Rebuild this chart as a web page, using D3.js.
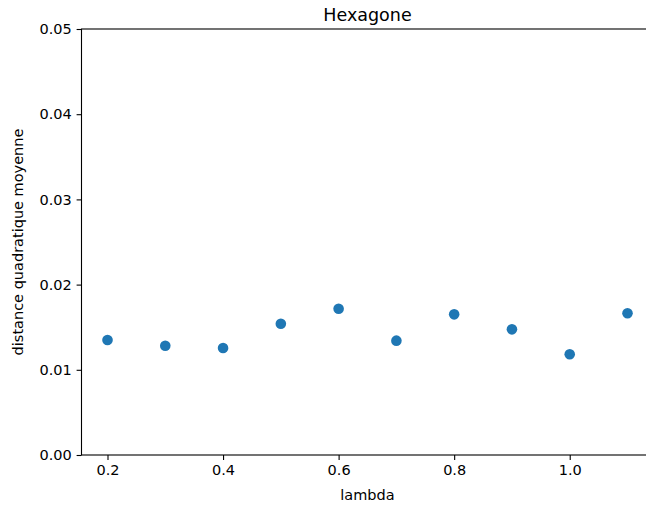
<!DOCTYPE html>
<html>
<head>
<meta charset="utf-8">
<script src="https://cdn.jsdelivr.net/npm/d3@7"></script>
<style>
  body { margin: 0; background: #fff; }
  svg { font-family: "DejaVu Sans", sans-serif; }
</style>
</head>
<body>
<div id="chart"></div>
<script>
// values
var lambdas = [0.2, 0.3, 0.4, 0.5, 0.6, 0.7, 0.8, 0.9, 1.0, 1.1];
var distances = [0.0135, 0.01283, 0.01256, 0.01541, 0.01717, 0.01342, 0.01651, 0.01475, 0.01182, 0.01663];
var xTicks = [0.2, 0.4, 0.6, 0.8, 1.0];
var yTicks = [0.00, 0.01, 0.02, 0.03, 0.04, 0.05];

var W = 646, H = 505;
// axes box (right edge falls just outside the picture, like the reference)
var axL = 81.5, axR = 653.5, axT = 29, axB = 455;

var svg = d3.select("#chart")
    .append("svg")
    .attr("width", W)
    .attr("height", H);

var data = lambdas.map(function(l, i) { return {x: l, y: distances[i]}; });

// matplotlib style 5% margins on x
var xScale = d3.scaleLinear()
    .domain([0.155, 1.145])
    .range([axL, axR]);

var yScale = d3.scaleLinear()
    .domain([0, 0.05])
    .range([axB, axT]);

var xAxis = d3.axisBottom(xScale)
    .tickValues(xTicks)
    .tickFormat(d3.format(".1f"))
    .tickSizeInner(4.9)
    .tickSizeOuter(0)
    .tickPadding(4.9);

var yAxis = d3.axisLeft(yScale)
    .tickValues(yTicks)
    .tickFormat(d3.format(".2f"))
    .tickSizeInner(4.9)
    .tickSizeOuter(0)
    .tickPadding(4.9);

svg.append("g")
    .attr("class", "x-axis")
    .attr("transform", "translate(0," + axB + ")")
    .call(xAxis);

svg.append("g")
    .attr("class", "y-axis")
    .attr("transform", "translate(" + axL + ",0)")
    .call(yAxis);

svg.selectAll(".domain").remove();
svg.selectAll(".tick line").attr("stroke", "#000").attr("stroke-width", 1.1);
svg.selectAll(".tick text")
    .attr("fill", "#000")
    .style("font-size", "14.5px")
    .style("font-family", "DejaVu Sans, sans-serif");

// frame
svg.append("rect")
    .attr("x", axL)
    .attr("y", axT)
    .attr("width", axR - axL)
    .attr("height", axB - axT)
    .attr("fill", "none")
    .attr("stroke", "#000")
    .attr("stroke-width", 1.1);

// points
svg.selectAll("circle")
    .data(data)
    .enter()
    .append("circle")
    .attr("cx", function(d) { return xScale(d.x); })
    .attr("cy", function(d) { return yScale(d.y); })
    .attr("r", 5.3)
    .attr("fill", "#1f77b4");

// title and labels
svg.append("text")
    .attr("x", (axL + axR) / 2)
    .attr("y", axT - 8.5)
    .attr("text-anchor", "middle")
    .style("font-size", "17.5px")
    .text("Hexagone");

svg.append("text")
    .attr("x", (axL + axR) / 2)
    .attr("y", 500)
    .attr("text-anchor", "middle")
    .style("font-size", "14.5px")
    .text("lambda");

svg.append("text")
    .attr("transform", "translate(23," + (axT + axB) / 2 + ") rotate(-90)")
    .attr("text-anchor", "middle")
    .style("font-size", "14.5px")
    .text("distance quadratique moyenne");
</script>
</body>
</html>
